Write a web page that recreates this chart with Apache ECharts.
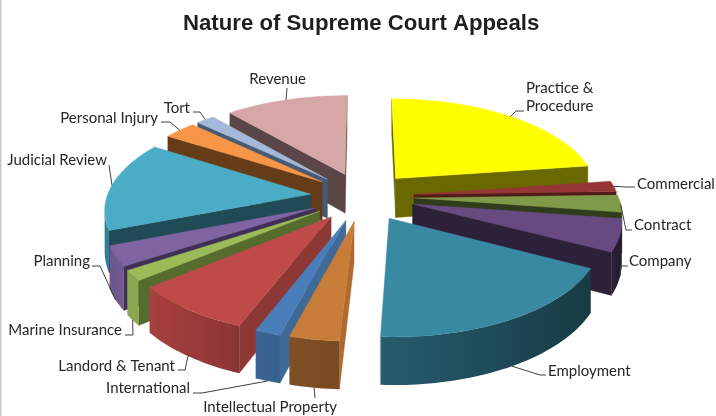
<!DOCTYPE html>
<html><head><meta charset="utf-8">
<style>html,body{margin:0;padding:0;background:#fff}#c{width:716px;height:416px}</style>
<script src="https://cdn.jsdelivr.net/npm/echarts@6/dist/echarts.min.js"></script>
</head><body><div id="c"></div>
<script>
const categories = ['Practice &\nProcedure','Commercial','Contract','Company','Employment','Intellectual Property','International','Landord & Tenant','Marine Insurance','Planning','Judicial Review','Personal Injury','Tort','Revenue'];
const shares = [22.7,1.8,2.8,5.3,18.2,3.3,1.7,8.2,1.7,3.3,14.9,3.0,1.7,11.3];

const topColors  = ['#FFFF00','#953735','#7F9A48','#664A80','#3A89A3','#C77C38','#4A7EBB','#BE4B48','#9BBB59','#8064A2','#4BACC6','#F79646','#A4B9DA','#D7A6A6'];
const wallColors = ['#696900','#4F1A18','#2F3D1C','#2C2138','#193C45','#B06A30','#3F6A98','#8E3836','#566B2E','#3F2E55','#1F4A56','#663B17','#465A73','#5A4646'];
const rimColors  = [['#8F8F00','#696900'],['#4F1A18','#4F1A18'],['#2F3D1C','#2F3D1C'],['#2C2138','#241A2E'],['#265D6E','#183A43'],['#7F4F25','#7A4A22'],['#3A6492','#38608E'],['#A8403E','#8A3533'],['#8AA751','#8AA751'],['#6E5690','#705A8E'],['#2E8096','#2E8096'],['#663B17','#663B17'],['#465A73','#465A73'],['#5A4646','#5A4646']];

// label layout: text anchor, alignment, elbow points of the leader, and whether the leader starts on the lower rim
const labelLayout = [
  {x:526,y:97,a:'left',elbow:[[516,111],[524,111]],low:0},
  {x:637,y:184,a:'left',elbow:[[626,187],[635,187]],low:0},
  {x:634,y:225,a:'left',elbow:[[626,230],[632,230]],low:0},
  {x:629,y:261,a:'left',elbow:[[621,266],[628,266]],low:1},
  {x:548,y:371,a:'left',elbow:[[540,375],[546,375]],low:1},
  {x:337,y:407,a:'right',elbow:[[315,398]],low:1},
  {x:190,y:388,a:'right',elbow:[[202,393],[193,393]],low:1},
  {x:175,y:366,a:'right',elbow:[[185,370],[178,370]],low:1},
  {x:122,y:330,a:'right',elbow:[[133,335],[125,335]],low:1},
  {x:90,y:261,a:'right',elbow:[[100,266],[92,266]],low:1},
  {x:107,y:160,a:'right',elbow:[[109,165]],low:0},
  {x:158,y:118,a:'right',elbow:[[170,122],[161,122]],low:0},
  {x:190,y:108,a:'right',elbow:[[200,112],[193,112]],low:0},
  {x:306,y:79,a:'right',elbow:[[287,88]],low:0}
];

// view model of the tilted, exploded pie
const CX=362.5, CY=196.5, FX=208, GY=97.4, K=0.1416, H=40, EXPLODE=0.25, RAD=0.98;

const total = shares.reduce((a,b)=>a+b,0);
const slices = [];
let run = 0;
shares.forEach((v,i)=>{
  const a0 = run/total*2*Math.PI; run += v;
  slices.push({i, a0, a1: run/total*2*Math.PI, mid:(a0+run/total*2*Math.PI)/2});
});
function proj(X,Z){
  const s = 1/(1-K*Z);
  return {x:CX+FX*X*s, y:CY+GY*Z*s, b:H*s};
}
function onDisc(sl,a){
  const ox=EXPLODE*Math.sin(sl.mid), oz=-EXPLODE*Math.cos(sl.mid);
  return proj(ox+RAD*Math.sin(a), oz-RAD*Math.cos(a));
}
function apex(sl){ return proj(EXPLODE*Math.sin(sl.mid), -EXPLODE*Math.cos(sl.mid)); }

const order = slices.slice().sort((p,q)=>(-Math.cos(p.mid))-(-Math.cos(q.mid)));

function poly(pts,fill){
  return {type:'polygon',shape:{points:pts},style:{fill:fill,stroke:fill,lineWidth:0.4}};
}
function renderSlice(params,api){
  const sl = slices[api.value(0)], i = sl.i;
  const A = apex(sl), n = Math.max(6,Math.ceil((sl.a1-sl.a0)*40));
  const rim = [];
  for(let t=0;t<=n;t++) rim.push(onDisc(sl, sl.a0+(sl.a1-sl.a0)*t/n));
  const first=rim[0], last=rim[n], kids=[];
  const wall=(P)=>poly([[A.x,A.y],[P.x,P.y],[P.x,P.y+P.b],[A.x,A.y+A.b]],wallColors[i]);
  if(first.x<A.x) kids.push(wall(first));
  if(last.x>A.x) kids.push(wall(last));
  let vis=[];
  for(let t=0;t<n;t++){ if(rim[t+1].x<rim[t].x){ if(!vis.length) vis.push(rim[t]); vis.push(rim[t+1]); } }
  if(vis.length>1){
    const up=vis.map(p=>[p.x,p.y]), dn=vis.slice().reverse().map(p=>[p.x,p.y+p.b]);
    const fill=new echarts.graphic.LinearGradient(0,0,1,0,[{offset:0,color:rimColors[i][0]},{offset:1,color:rimColors[i][1]}]);
    kids.push({type:'polygon',shape:{points:up.concat(dn)},style:{fill:fill}});
  }
  kids.push(poly([[A.x,A.y]].concat(rim.map(p=>[p.x,p.y])),topColors[i]));
  return {type:'group',children:kids};
}
function renderLabel(params,api){
  const i=api.value(0), sl=slices[i], L=labelLayout[i];
  const p=onDisc(sl,sl.mid), start=[p.x,p.y+(L.low?p.b:0)];
  return {type:'group',children:[
    {type:'polyline',shape:{points:[start].concat(L.elbow)},style:{fill:null,stroke:'#404040',lineWidth:1}},
    {type:'text',style:{text:categories[i],x:L.x,y:L.y,align:L.a,verticalAlign:'middle',font:'15px Lato',lineHeight:18,fill:'#262626'}}
  ]};
}
const chart = echarts.init(document.getElementById('c'),null,{renderer:'canvas'});
chart.setOption({
  animation:false,
  backgroundColor:'#fff',
  title:{text:'Nature of Supreme Court Appeals',left:178,top:8,textStyle:{fontFamily:'Liberation Sans',fontSize:22.2,fontWeight:'bold',color:'#1F1F1F'}},
  graphic:[{type:'rect',shape:{x:0,y:0,width:1.5,height:416},style:{fill:'#C8C8C8'}}],
  series:[
    {type:'custom',coordinateSystem:'none',renderItem:renderSlice,silent:true,z:2,
     data:order.map(s=>({name:categories[s.i],value:[s.i,shares[s.i]]}))},
    {type:'custom',coordinateSystem:'none',renderItem:renderLabel,silent:true,z:3,
     data:categories.map((c,i)=>({name:c,value:[i,shares[i]]}))}
  ]
});
</script></body></html>
